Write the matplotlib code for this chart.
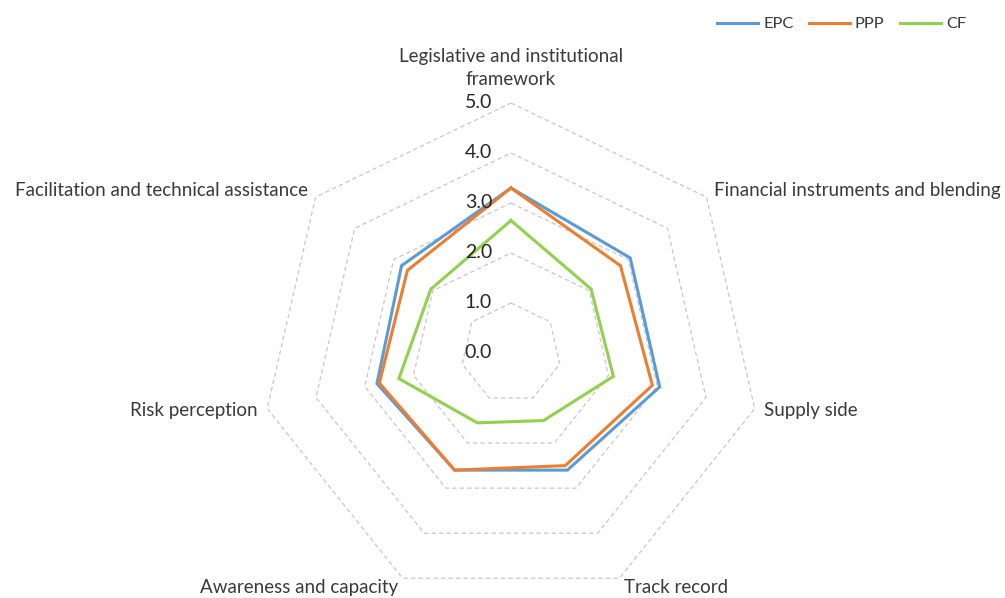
import matplotlib
matplotlib.use("Agg")
import matplotlib.pyplot as plt
import matplotlib.transforms as mtransforms
import numpy as np

plt.rcParams["font.family"] = ["Lato", "DejaVu Sans"]

categories = [
    "Legislative and institutional\nframework",
    "Financial instruments and blending",
    "Supply side",
    "Track record",
    "Awareness and capacity",
    "Risk perception",
    "Facilitation and technical assistance",
]
epc = [3.3, 3.05, 3.05, 2.6, 2.6, 2.75, 2.8]
ppp = [3.3, 2.8, 2.9, 2.5, 2.6, 2.7, 2.65]
cf = [2.65, 2.05, 2.1, 1.5, 1.55, 2.3, 2.05]
series_names = ["EPC", "PPP", "CF"]
rings = [1.0, 2.0, 3.0, 4.0, 5.0]
tick_values = [0.0, 1.0, 2.0, 3.0, 4.0, 5.0]

colors = ["#5B9BD5", "#ED7D31", "#92D050"]
text_color = "#3a3a3a"

W, H = 1005, 598
fig = plt.figure(figsize=(W / 100, H / 100), dpi=100)

# polar axes centred on the chart, radius 250 px for a value of 5
cx, cy, rad = 511, 353, 250
ax = fig.add_axes(
    [(cx - rad) / W, (H - cy - rad) / H, 2 * rad / W, 2 * rad / H],
    polar=True,
)
ax.set_theta_zero_location("N")
ax.set_theta_direction(-1)
ax.set_ylim(0, 5)
ax.grid(False)
ax.set_xticks([])
ax.set_yticks([])
ax.spines["polar"].set_visible(False)
ax.patch.set_alpha(0)

n = len(categories)
angles = np.linspace(0, 2 * np.pi, n, endpoint=False)
closed = np.append(angles, angles[0])

for r in rings:
    ax.plot(closed, [r] * (n + 1), color="#c8c8c8", lw=0.9,
            ls=(0, (3.5, 2.5)), zorder=1)

for name, vals, col in zip(series_names, [epc, ppp, cf], colors):
    ax.plot(closed, vals + vals[:1], color=col, lw=2.2, label=name,
            zorder=3, solid_joinstyle="miter")

# value labels just left of the top spoke
tick_tr = mtransforms.offset_copy(ax.transData, fig=fig, x=-19, y=0, units="dots")
for v in tick_values:
    ax.text(0, v, f"{v:.1f}", transform=tick_tr, ha="right", va="center",
            fontsize=14, color="#262626")

# category labels
for i, (a, lab) in enumerate(zip(angles, categories)):
    if i == 0:
        ax.text(a, 5.3, lab, ha="center", va="bottom", multialignment="center",
                fontsize=13.5, color=text_color, linespacing=1.4)
        continue
    ha = "left" if np.sin(a) > 0 else "right"
    ax.text(a, 5.2, lab, ha=ha, va="center", fontsize=13.5, color=text_color)

fig.legend(loc="upper right", bbox_to_anchor=(966 / W, 1 - 17 / H), ncol=3,
           frameon=False, fontsize=11.8, handlelength=2.5, handletextpad=0.3,
           columnspacing=0.95, borderaxespad=0, borderpad=0,
           labelcolor=text_color)

fig.savefig("out.png", dpi=100)
